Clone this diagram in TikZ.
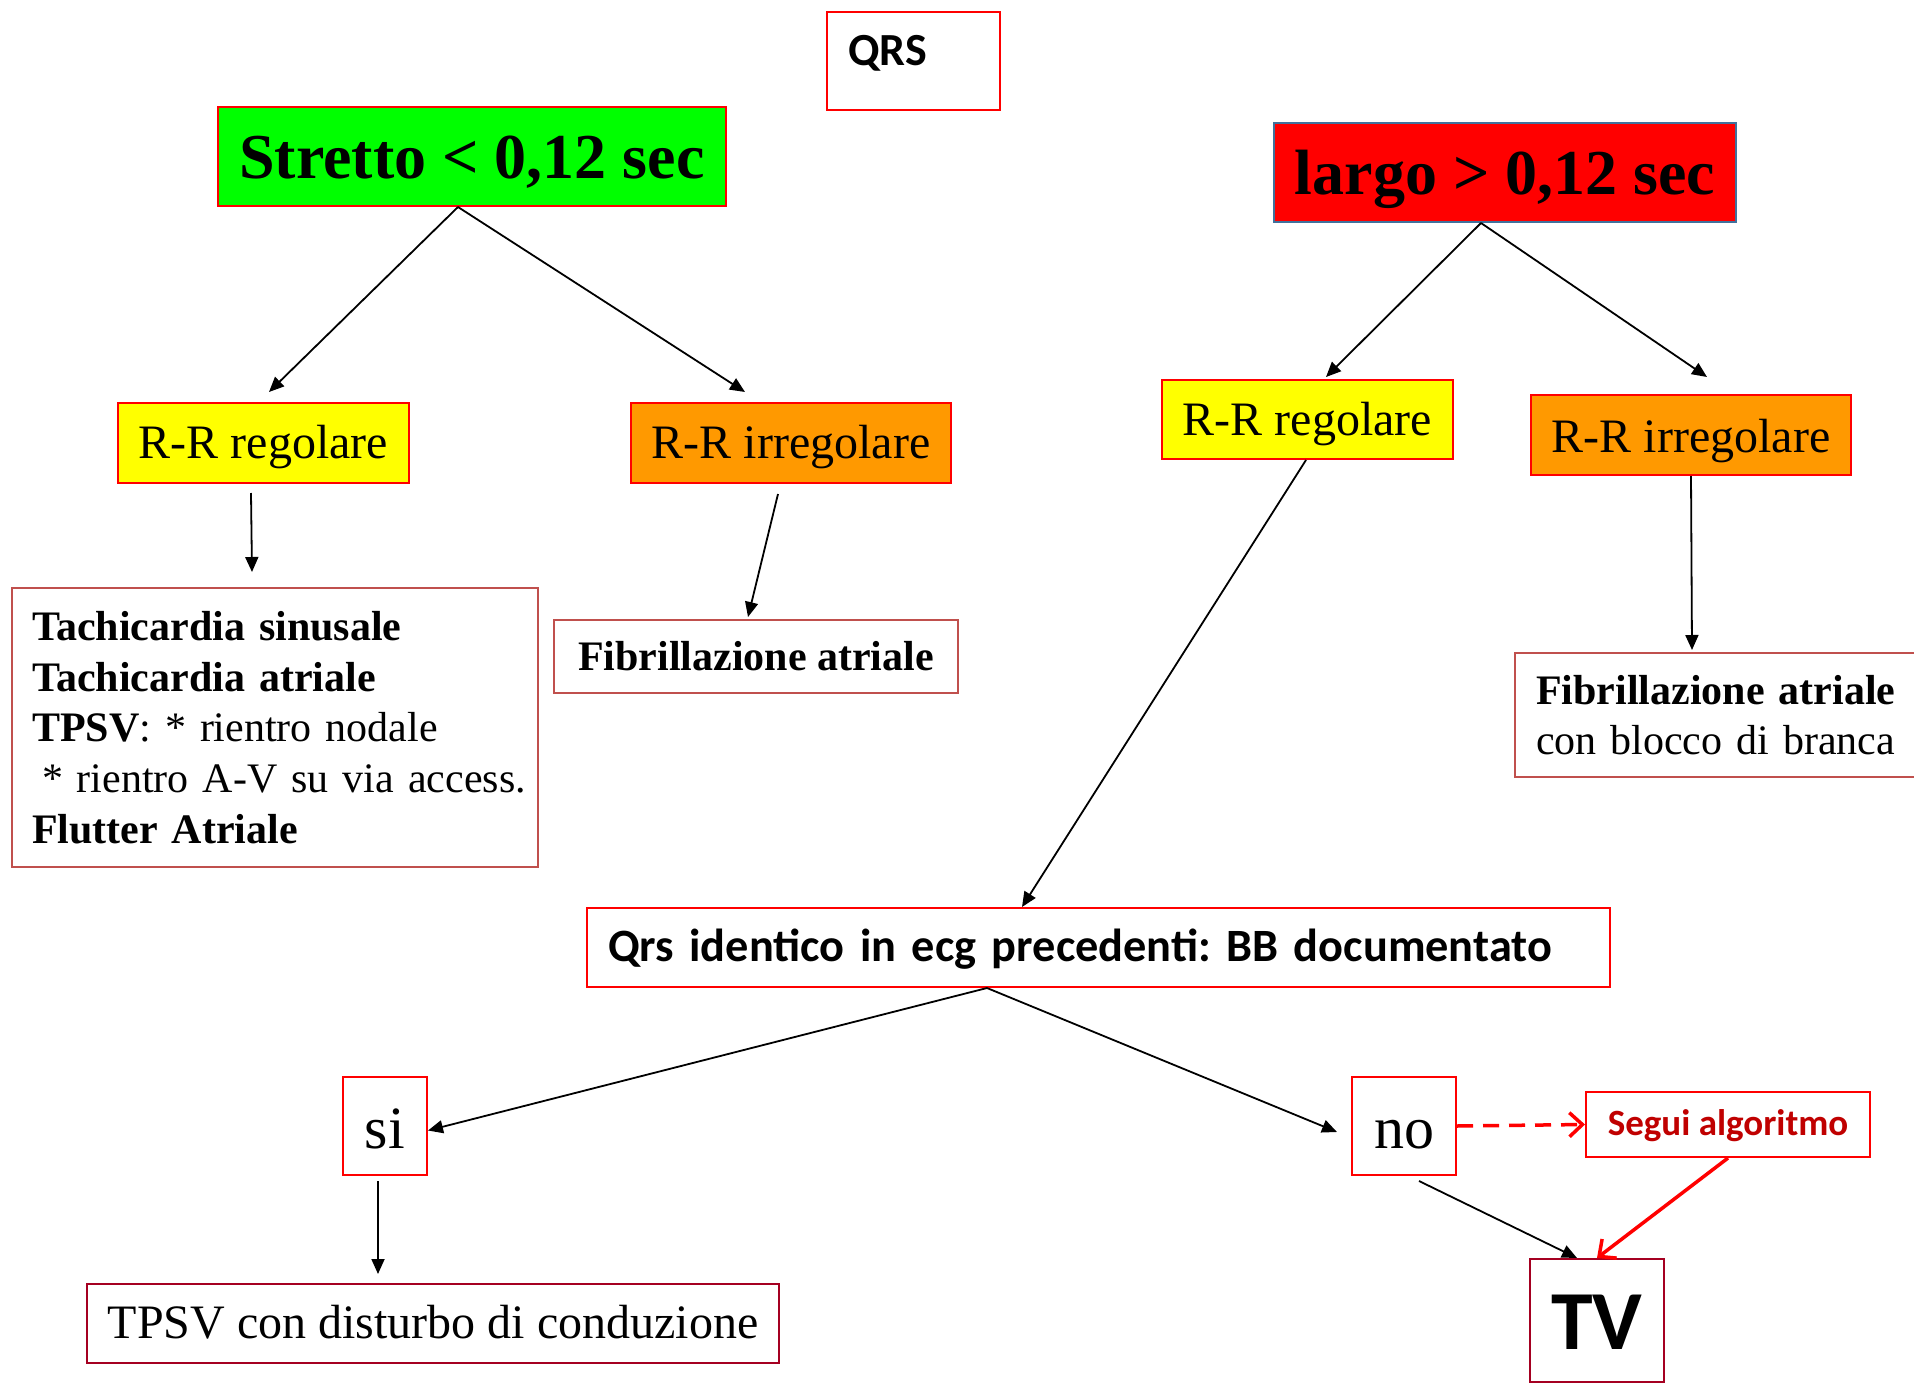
\documentclass[tikz,border=0pt]{standalone}
\usepackage{fontspec}
\setmainfont{Liberation Serif}
\newfontfamily\carlito{Carlito}
\usetikzlibrary{arrows.meta,calc}
\frenchspacing
\definecolor{bred}{HTML}{FF0000}
\definecolor{lred}{HTML}{C0504D}
\definecolor{crim}{HTML}{A50021}
\definecolor{bblue}{HTML}{41719C}
\definecolor{ggreen}{HTML}{00FF00}
\definecolor{yyel}{HTML}{FFFF00}
\definecolor{oor}{HTML}{FF9900}
\definecolor{dred}{HTML}{C00000}
\tikzset{
  bx/.style={draw=bred, line width=2pt, inner sep=0pt, text=black},
  arr/.style={-{Triangle[length=15pt,width=13pt]}, line width=1.8pt, black},
  rarr/.style={-{Straight Barb[length=13pt,width=24pt,line width=3.5pt]}, line width=3.5pt, bred},
  bigser/.style={font=\bfseries\fontsize{64}{77}\selectfont},
  rrfont/.style={font=\fontsize{48}{58}\selectfont},
  boxfont/.style={font=\fontsize{42}{50.7}\selectfont},
}
\begin{document}
\begin{tikzpicture}[x=1pt,y=-1pt]
\fill[white] (0,0) rectangle (1914,1383);
\clip (0,0) rectangle (1914,1383);

% top
\node[bx, anchor=base west, text width=131pt, inner xsep=21pt, text height=54pt, text depth=44pt, align=left,
      font=\carlito\bfseries\fontsize{46}{55}\selectfont] (qrs) at (826,66) {\mbox{QRS}};
\node[bx, bigser, fill=ggreen, anchor=base, minimum width=508pt, text height=72pt, text depth=27pt] (str) at (472,179) {Stretto < 0,12 sec};
\node[bx, bigser, draw=bblue, fill=bred, anchor=base, minimum width=462pt, text height=72pt, text depth=27pt] (lar) at (1505,195) {largo > 0,12 sec};

% R-R boxes
\node[bx, rrfont, fill=yyel, anchor=base, minimum width=291pt, text height=55pt, text depth=25pt] (rrl) at (263.5,458) {R-R regolare};
\node[bx, rrfont, fill=oor, anchor=base, minimum width=320pt, text height=55pt, text depth=25pt] (rri) at (791,458) {R-R irregolare};
\node[bx, rrfont, fill=yyel, anchor=base, minimum width=291pt, text height=55pt, text depth=24pt] (rrr) at (1307.5,435) {R-R regolare};
\node[bx, rrfont, fill=oor, anchor=base, minimum width=320pt, text height=57pt, text depth=23pt] (rir) at (1691,452) {R-R irregolare};

% outcome boxes
\node[bx, boxfont, draw=lred, anchor=north west, minimum width=526pt, minimum height=279pt, text width=486pt,
      inner xsep=20pt, align=left] (tach) at (11,587)
  {\mbox{\textbf{Tachicardia sinusale}}\\\mbox{\textbf{Tachicardia atriale}}\\\mbox{\textbf{TPSV}: * rientro nodale}\\\mbox{\hspace*{10pt}* rientro A-V su via access.}\\\mbox{\textbf{Flutter Atriale}}};
\node[bx, boxfont, draw=lred, minimum width=404pt, minimum height=73pt] (fibl) at (756,656.5) {\textbf{Fibrillazione atriale}};
\node[bx, boxfont, draw=lred, anchor=north west, minimum width=430pt, minimum height=124pt, text width=388pt,
      inner xsep=21pt, align=left] (fibr) at (1514,652)
  {\mbox{\textbf{Fibrillazione atriale}}\\\mbox{con blocco di branca}};

\node[bx, anchor=base west, text width=981pt, inner xsep=21pt, text height=53pt, text depth=26pt, align=left,
      font=\carlito\bfseries\fontsize{48}{58}\selectfont] (qid) at (586,961)
  {\resizebox{944pt}{!}{\mbox{Qrs identico in ecg precedenti: BB documentato}}};

\node[bx, anchor=base, minimum width=84pt, text height=71pt, text depth=27pt, font=\fontsize{60}{72}\selectfont] (si) at (385,1148) {si};
\node[bx, anchor=base, minimum width=104pt, text height=71pt, text depth=27pt, font=\fontsize{60}{72}\selectfont] (no) at (1404,1148) {no};
\node[bx, anchor=base, minimum width=284pt, text height=43pt, text depth=22pt, text=dred,
      font=\carlito\bfseries\fontsize{37}{44}\selectfont] (seg) at (1728,1135) {Segui algoritmo};
\node[bx, draw=crim, anchor=base, minimum width=134pt, text height=90pt, text depth=33pt,
      font=\carlito\bfseries\fontsize{84}{100}\selectfont] (tv) at (1597,1349) {TV};
\node[bx, rrfont, draw=crim, anchor=base, minimum width=692pt, text height=54pt, text depth=25pt] (tpsv) at (433,1338) {TPSV con disturbo di conduzione};

% connectors
\draw[arr] ([xshift=-14pt]str.south) -- ([xshift=5.5pt,yshift=10pt]rrl.north);
\draw[arr] ([xshift=-14pt]str.south) -- ([xshift=-46pt,yshift=10pt]rri.north);
\draw[arr] ([xshift=-12.5pt,yshift=-9pt]rrl.south) -- ([xshift=-23pt,yshift=15pt]tach.north);
\draw[arr] ([xshift=-13pt,yshift=-10pt]rri.south) -- ([xshift=-8pt,yshift=2pt]fibl.north);
\draw[arr] ([xshift=-24pt]lar.south) -- ([xshift=18.5pt,yshift=2pt]rrr.north);
\draw[arr] ([xshift=-24pt]lar.south) -- ([xshift=16pt,yshift=17pt]rir.north);
\draw[arr] ([xshift=-1.5pt]rrr.south) -- ([xshift=-76.5pt]qid.north);
\draw[arr] (rir.south) -- ([xshift=-38pt,yshift=2pt]fibr.north);
\draw[arr] ([xshift=-111.5pt]qid.south) -- ([yshift=-4.5pt]si.east);
\draw[arr] ([xshift=-111.5pt]qid.south) -- ([xshift=-14pt,yshift=-6pt]no.west);
\draw[arr] ([xshift=-7pt,yshift=-5pt]si.south) -- ([xshift=-55pt,yshift=9pt]tpsv.north);
\draw[arr] ([xshift=15pt,yshift=-5pt]no.south) -- ([xshift=-20pt]tv.north);
\draw[rarr, dash pattern=on 16pt off 10pt] (no.east) -- (seg.west);
\draw[rarr] (seg.south) -- (tv.north);
\end{tikzpicture}
\end{document}
